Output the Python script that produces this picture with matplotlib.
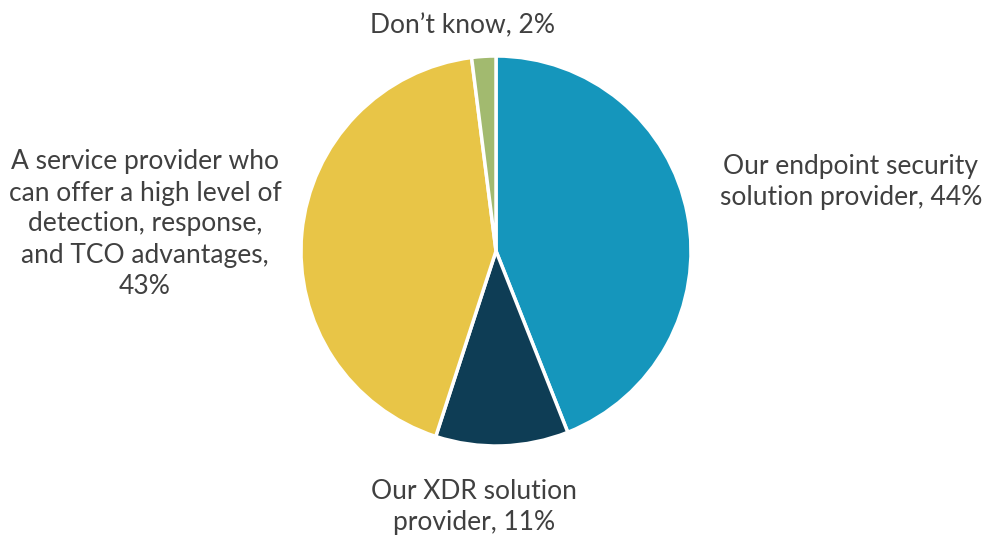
import matplotlib.pyplot as plt

# Survey shares, clockwise from 12 o'clock
categories = [
    "Our endpoint security\nsolution provider",
    "Our XDR solution\nprovider",
    "A service provider who\ncan offer a high level of\ndetection, response,\nand TCO advantages",
    "Don\u2019t know",
]
shares = [44, 11, 43, 2]
colors = ["#1596BC", "#0E3D55", "#E8C547", "#A2BA6F"]
# how the value is joined to its category name
joiners = [", ", ", ", ",\n", ", "]

# label anchor points in pixel space (x, y from top)
label_pos = [(851, 182), (474, 507), (145, 224), (463, 26)]

W, H = 1003, 540
fig = plt.figure(figsize=(W / 100, H / 100), dpi=100)
ax = fig.add_axes([0, 0, 1, 1])

ax.pie(
    shares,
    colors=colors,
    startangle=90,
    counterclock=False,
    center=(496, H - 251),
    radius=195,
    wedgeprops=dict(edgecolor="white", linewidth=2.5),
    frame=True,
)
ax.set_xlim(0, W)
ax.set_ylim(0, H)
ax.set_aspect("equal")
ax.axis("off")

for cat, sep, val, (x, y) in zip(categories, joiners, shares, label_pos):
    ax.text(
        x, H - y, f"{cat}{sep}{val}%",
        ha="center", va="center",
        fontsize=19, family="Lato", color="#404040",
        linespacing=1.3,
    )

fig.savefig("out.png", dpi=100)
